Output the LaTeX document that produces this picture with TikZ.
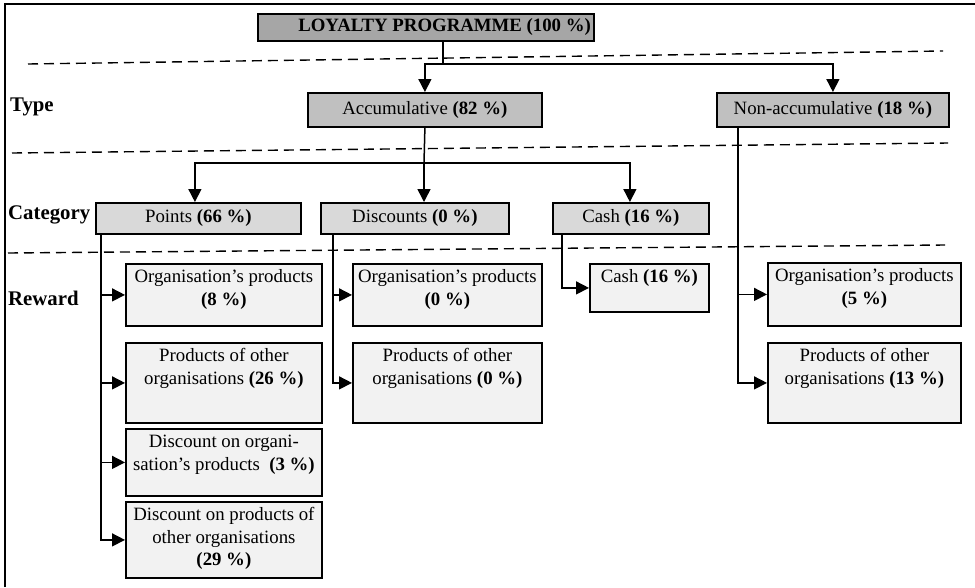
\documentclass[tikz,border=0pt]{standalone}
\usepackage{fontspec}
\setmainfont{Liberation Serif}
\usetikzlibrary{arrows.meta}
\definecolor{gA}{HTML}{A6A6A6}
\definecolor{gB}{HTML}{C0C0C0}
\definecolor{gC}{HTML}{D9D9D9}
\definecolor{gD}{HTML}{F2F2F2}
\newcommand{\fs}{\fontsize{18.8pt}{22.5pt}\selectfont}
\newcommand{\tb}[3]{\parbox[c][#2pt][t]{#1pt}{\centering\rule{0pt}{19pt}#3}}
\newcommand{\cb}[3]{\parbox[c][#2pt][c]{#1pt}{\centering #3}}
\begin{document}
\begin{tikzpicture}[x=1pt,y=-1pt,
  every node/.style={font=\fs},
  bx/.style={draw=black, line width=1.8pt, inner sep=0pt, anchor=north west},
  con/.style={line width=1.5pt},
  arr/.style={con, -{Triangle[length=13pt,width=13pt]}},
  dl/.style={line width=1.4pt, dash pattern=on 10pt off 6pt},
  lab/.style={anchor=west, inner sep=0pt, font=\fontsize{20.8pt}{24pt}\selectfont\bfseries}]
\useasboundingbox (0,0) rectangle (975,587);
% frame
\draw[line width=1.6pt] (5,587) -- (5,4) -- (975,4);
% dashed separators
\draw[dl] (28,64) -- (943,51);
\draw[dl] (12,153) -- (948,143);
\draw[dl] (8,253) -- (945,245);
% level labels
\node[lab] (type) at (10,107) {Type};
\node[lab] (cat) at (8,215) {Category};
\node[lab] (rew) at (8,298) {Reward};
% boxes
\node[bx, fill=gA] (top) at (257,13) {\parbox[c][27pt][c]{336pt}{\hfill\bfseries LOYALTY PROGRAMME (100 \%)\hspace*{3pt}}};
\node[bx, fill=gB] (acc) at (307,92) {\cb{234}{34}{Accumulative \textbf{(82 \%)}}};
\node[bx, fill=gB] (non) at (716,92) {\cb{232}{34}{Non-accumulative \textbf{(18 \%)}}};
\node[bx, fill=gC] (pts) at (95,202) {\cb{205}{31}{Points \textbf{(66 \%)}}};
\node[bx, fill=gC] (disc) at (320,202) {\cb{188}{31}{Discounts \textbf{(0 \%)}}};
\node[bx, fill=gC] (cash) at (552,202) {\cb{156}{31}{Cash \textbf{(16 \%)}}};
\node[bx, fill=gD] (r1) at (125,263) {\tb{196}{62}{Organisation’s products\\\textbf{(8 \%)}}};
\node[bx, fill=gD] (r2) at (125,342) {\tb{196}{80}{Products of other\\organisations \textbf{(26 \%)}}};
\node[bx, fill=gD] (r3) at (125,428) {\tb{196}{67}{Discount on organi-\\sation’s products\ \ \textbf{(3 \%)}}};
\node[bx, fill=gD] (r4) at (125,501) {\tb{196}{76}{Discount on products of\\other organisations\\\textbf{(29 \%)}}};
\node[bx, fill=gD] (d1) at (352,263) {\tb{189}{62}{Organisation’s products\\\textbf{(0 \%)}}};
\node[bx, fill=gD] (d2) at (352,342) {\tb{189}{80}{Products of other\\organisations \textbf{(0 \%)}}};
\node[bx, fill=gD] (c1) at (589,263) {\tb{119}{48}{Cash \textbf{(16 \%)}}};
\node[bx, fill=gD] (n1) at (767,262) {\tb{193}{63}{Organisation’s products\\\textbf{(5 \%)}}};
\node[bx, fill=gD] (n2) at (767,342) {\tb{193}{80}{Products of other\\organisations \textbf{(13 \%)}}};
% connectors
\coordinate (j1) at (443,64);
\draw[con] (top.south -| j1) -- (j1);
\draw[arr] (j1) -| (acc.north);
\draw[arr] (j1) -| (non.north);
\coordinate (j2) at (424,163);
\draw[con] (acc.south) -- (j2);
\draw[arr] (j2) -| ([xshift=-3.5pt]pts.north);
\draw[arr] (j2) -- (j2 |- disc.north);
\draw[arr] (j2) -| ([xshift=-1pt]cash.north);
\draw[arr] ([xshift=6pt]pts.south west) |- (r1.west);
\draw[arr] ([xshift=6pt]pts.south west) |- (r2.west);
\draw[arr] ([xshift=6pt]pts.south west) |- (r3.west);
\draw[arr] ([xshift=6pt]pts.south west) |- (r4.west);
\draw[arr] ([xshift=13pt]disc.south west) |- (d1.west);
\draw[arr] ([xshift=13pt]disc.south west) |- (d2.west);
\draw[arr] ([xshift=10pt]cash.south west) |- (c1.west);
\draw[arr] ([xshift=22pt]non.south west) |- (n1.west);
\draw[arr] ([xshift=22pt]non.south west) |- (n2.west);
\end{tikzpicture}
\end{document}
